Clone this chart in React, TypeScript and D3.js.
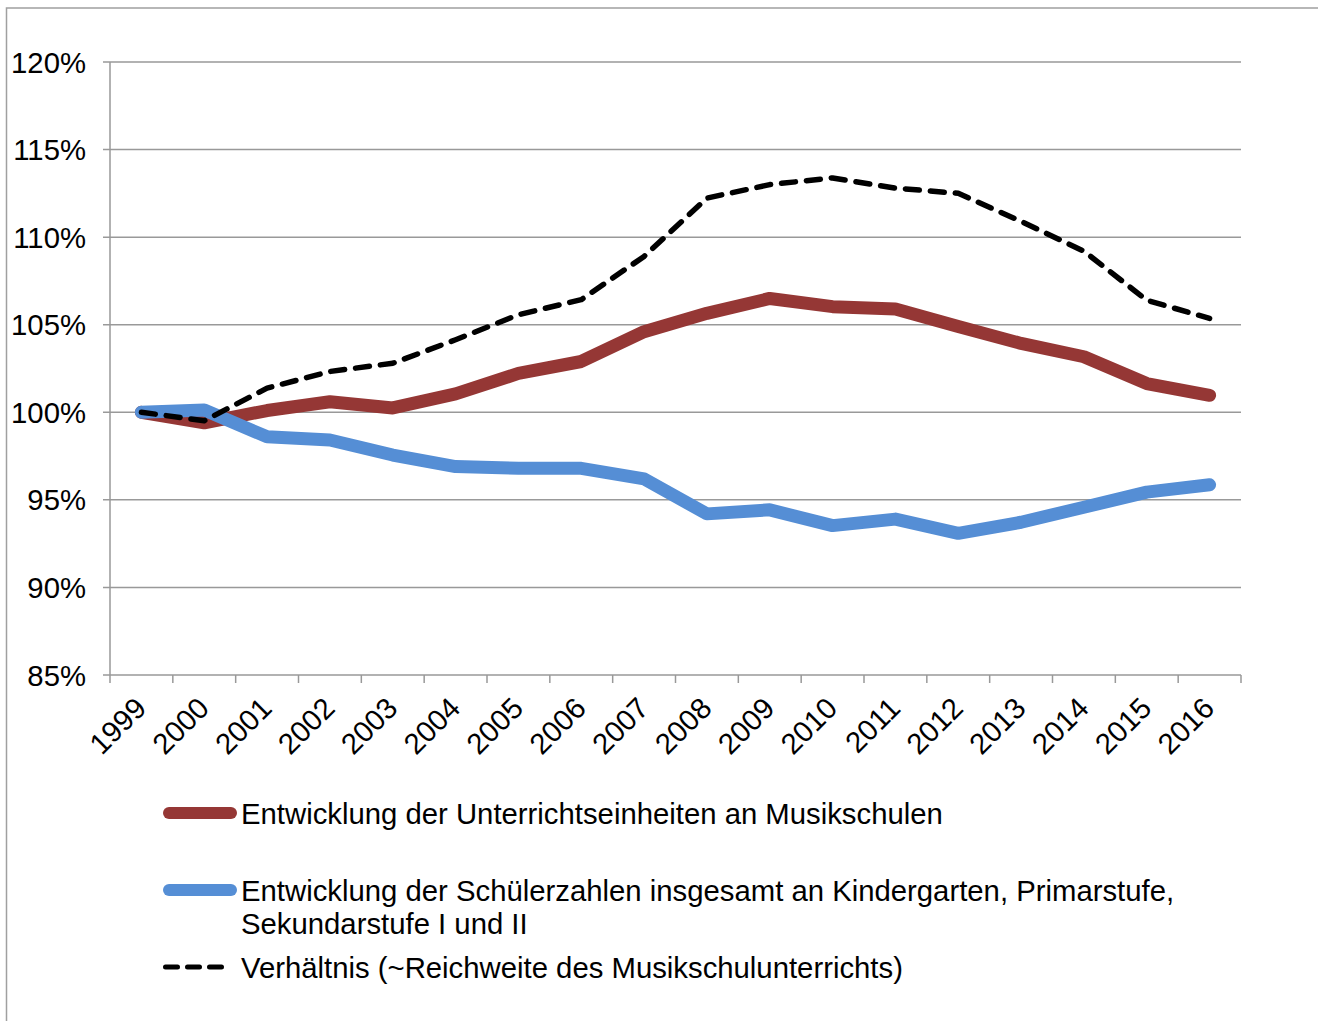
import React from "react";
import * as d3 from "d3";

const years = ["1999","2000","2001","2002","2003","2004","2005","2006","2007","2008","2009","2010","2011","2012","2013","2014","2015","2016"];
const unterricht = [1.0, 0.994, 1.001, 1.006, 1.0025, 1.0105, 1.0222, 1.029, 1.046, 1.0565, 1.065, 1.0603, 1.059, 1.049, 1.0393, 1.0317, 1.0164, 1.0097];
const schueler = [1.0, 1.0013, 0.986, 0.9842, 0.9756, 0.969, 0.968, 0.968, 0.962, 0.942, 0.9443, 0.9353, 0.939, 0.9309, 0.9372, 0.9458, 0.9544, 0.9586];
const verhaeltnis = [1.0, 0.9952, 1.0138, 1.0233, 1.028, 1.0414, 1.0557, 1.0643, 1.089, 1.1223, 1.13, 1.1338, 1.128, 1.125, 1.109, 1.092, 1.064, 1.0536];
const yTicks = [0.85, 0.9, 0.95, 1.0, 1.05, 1.1, 1.15, 1.2];
const legendLabels = [
  ["Entwicklung der Unterrichtseinheiten an Musikschulen"],
  ["Entwicklung der Schülerzahlen insgesamt an Kindergarten, Primarstufe,", "Sekundarstufe I und II"],
  ["Verhältnis (~Reichweite des Musikschulunterrichts)"],
];

const FONT = "'Liberation Sans', Arial, sans-serif";
const FS = 29.3;

export default function App() {
  const left = 110, right = 1241, top = 62, bottom = 675;
  const x = d3.scaleBand<string>().domain(years).range([left, right]).padding(0);
  const y = d3.scaleLinear().domain([0.85, 1.2]).range([bottom, top]);
  const cx = (i: number) => (x(years[i]) as number) + x.bandwidth() / 2;
  const line = d3.line<number>().x((_, i) => cx(i)).y((v) => y(v));
  const grid = "#999999";
  const tickEdges = years.map((yr) => x(yr) as number).concat([right]);

  return (
    <svg width={1318} height={1021} style={{ position: "absolute", left: 0, top: 0, display: "block" }}>
      <rect x={0} y={0} width={1318} height={1021} fill="#ffffff" />
      <rect x={6.5} y={8} width={1400} height={1100} fill="none" stroke="#a0a0a0" strokeWidth={1.5} />
      {yTicks.map((t) => (
        <g key={t}>
          <line x1={left - 7} x2={right} y1={y(t)} y2={y(t)} stroke={grid} strokeWidth={1.5} />
          <text x={86} y={y(t)} dy="0.36em" textAnchor="end" fontFamily={FONT} fontSize={FS} fill="#000">
            {d3.format(".0%")(t)}
          </text>
        </g>
      ))}
      <line x1={left} x2={left} y1={top} y2={bottom} stroke={grid} strokeWidth={1.5} />
      {tickEdges.map((e, i) => (
        <line key={i} x1={e} x2={e} y1={bottom} y2={bottom + 8} stroke={grid} strokeWidth={1.5} />
      ))}
      {years.map((yr, i) => (
        <text key={yr} transform={`translate(${cx(i) - 8},${bottom + 20.5}) rotate(-45)`} textAnchor="end" dy="0.7em"
          fontFamily={FONT} fontSize={FS} fill="#000">{yr}</text>
      ))}
      <path d={line(unterricht) || ""} fill="none" stroke="#953735" strokeWidth={13} strokeLinejoin="round" strokeLinecap="round" />
      <path d={line(schueler) || ""} fill="none" stroke="#558ED5" strokeWidth={13} strokeLinejoin="round" strokeLinecap="round" />
      <path d={line(verhaeltnis) || ""} fill="none" stroke="#000" strokeWidth={5.5} strokeDasharray="14 11" strokeLinejoin="round" strokeLinecap="round" />

      <line x1={169} x2={231} y1={813} y2={813} stroke="#953735" strokeWidth={12} strokeLinecap="round" />
      <line x1={169} x2={231} y1={890} y2={890} stroke="#558ED5" strokeWidth={12} strokeLinecap="round" />
      <line x1={165.5} x2={224.5} y1={967} y2={967} stroke="#000" strokeWidth={5} strokeDasharray="12 10" strokeLinecap="round" />
      {legendLabels.map((lines, k) => (
        <text key={k} fontFamily={FONT} fontSize={FS} fill="#000">
          {lines.map((ln, j) => (
            <tspan key={j} x={241} y={[813, 890, 967][k] + j * 33} dy="0.36em">{ln}</tspan>
          ))}
        </text>
      ))}
    </svg>
  );
}
